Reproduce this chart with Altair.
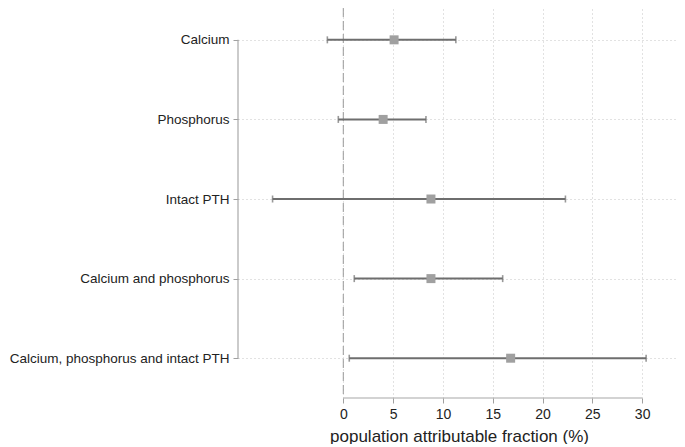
import json
import altair as alt
import pandas as pd

categories = [
    "Calcium",
    "Phosphorus",
    "Intact PTH",
    "Calcium and phosphorus",
    "Calcium, phosphorus and intact PTH",
]
positions = [1, 2, 3, 4, 5]
paf = [5.1, 4.0, 8.8, 8.8, 16.8]
lower = [-1.6, -0.5, -7.1, 1.1, 0.6]
upper = [11.3, 8.3, 22.3, 16.0, 30.4]
x_ticks = [0, 5, 10, 15, 20, 25, 30]

df = pd.DataFrame({"cat": categories, "pos": positions, "paf": paf, "lo": lower, "hi": upper})
one = pd.DataFrame({"k": [0]})

FONT = "Liberation Sans"
label_expr = json.dumps(categories) + "[datum.value - 1]"

xscale = alt.Scale(domain=[-10.57, 33.5], nice=False, zero=False)
yscale = alt.Scale(domain=[0.6, 5.5], reverse=True, nice=False, zero=False)

x_axis = alt.Axis(
    values=x_ticks, title="population attributable fraction (%)",
    grid=True, gridDash=[1, 3], gridColor="#c4c4c4", gridWidth=1,
    domain=False, tickColor="#a0a0a0", tickSize=5, tickWidth=1,
    labelFont=FONT, labelFontSize=14, labelColor="#222222", labelPadding=4,
    titleFont=FONT, titleFontSize=17, titleFontWeight="normal", titleColor="#222222",
    titlePadding=7, titleX=221,
)
y_axis = alt.Axis(
    values=positions, labelExpr=label_expr, title=None, labelLimit=0,
    grid=True, gridDash=[1, 3], gridColor="#c4c4c4", gridWidth=1,
    domain=False, tickColor="#a0a0a0", tickSize=5, tickWidth=1,
    labelFont=FONT, labelFontSize=13.5, labelColor="#222222", labelPadding=4,
)

base = alt.Chart(df)

ci = base.mark_rule(color="#6e6e6e", strokeWidth=2).encode(
    x=alt.X("lo:Q", scale=xscale, axis=x_axis),
    x2="hi:Q",
    y=alt.Y("pos:Q", scale=yscale, axis=y_axis),
)
cap_lo = base.mark_tick(orient="vertical", size=7, thickness=1.6, color="#6e6e6e").encode(
    x=alt.X("lo:Q", title="population attributable fraction (%)"), y=alt.Y("pos:Q", title=None)
)
cap_hi = base.mark_tick(orient="vertical", size=7, thickness=1.6, color="#6e6e6e").encode(
    x=alt.X("hi:Q", title="population attributable fraction (%)"), y=alt.Y("pos:Q", title=None)
)
pts = base.mark_square(size=81, color="#a0a0a0", opacity=1).encode(
    x=alt.X("paf:Q", title="population attributable fraction (%)"), y=alt.Y("pos:Q", title=None)
)

zero = alt.Chart(one).mark_rule(color="#999999", strokeDash=[9, 4], strokeWidth=1).encode(
    x=alt.datum(0)
)
yline = alt.Chart(one).mark_rule(color="#a8a8a8", strokeWidth=1.2).encode(
    x=alt.value(0), y=alt.datum(1), y2=alt.datum(5)
)
xline = alt.Chart(one).mark_rule(color="#a8a8a8", strokeWidth=1.2).encode(
    y=alt.value(390), x=alt.datum(0), x2=alt.datum(30)
)

chart = alt.layer(zero, yline, xline, ci, cap_lo, cap_hi, pts).properties(
    width=439, height=390,
    autosize=alt.AutoSizeParams(type="none"),
    padding={"left": 230, "top": 0, "right": 0, "bottom": 46},
).configure(background="white").configure_view(stroke=None)

chart.save("out.html", embed_options={"renderer": "svg", "actions": False})
